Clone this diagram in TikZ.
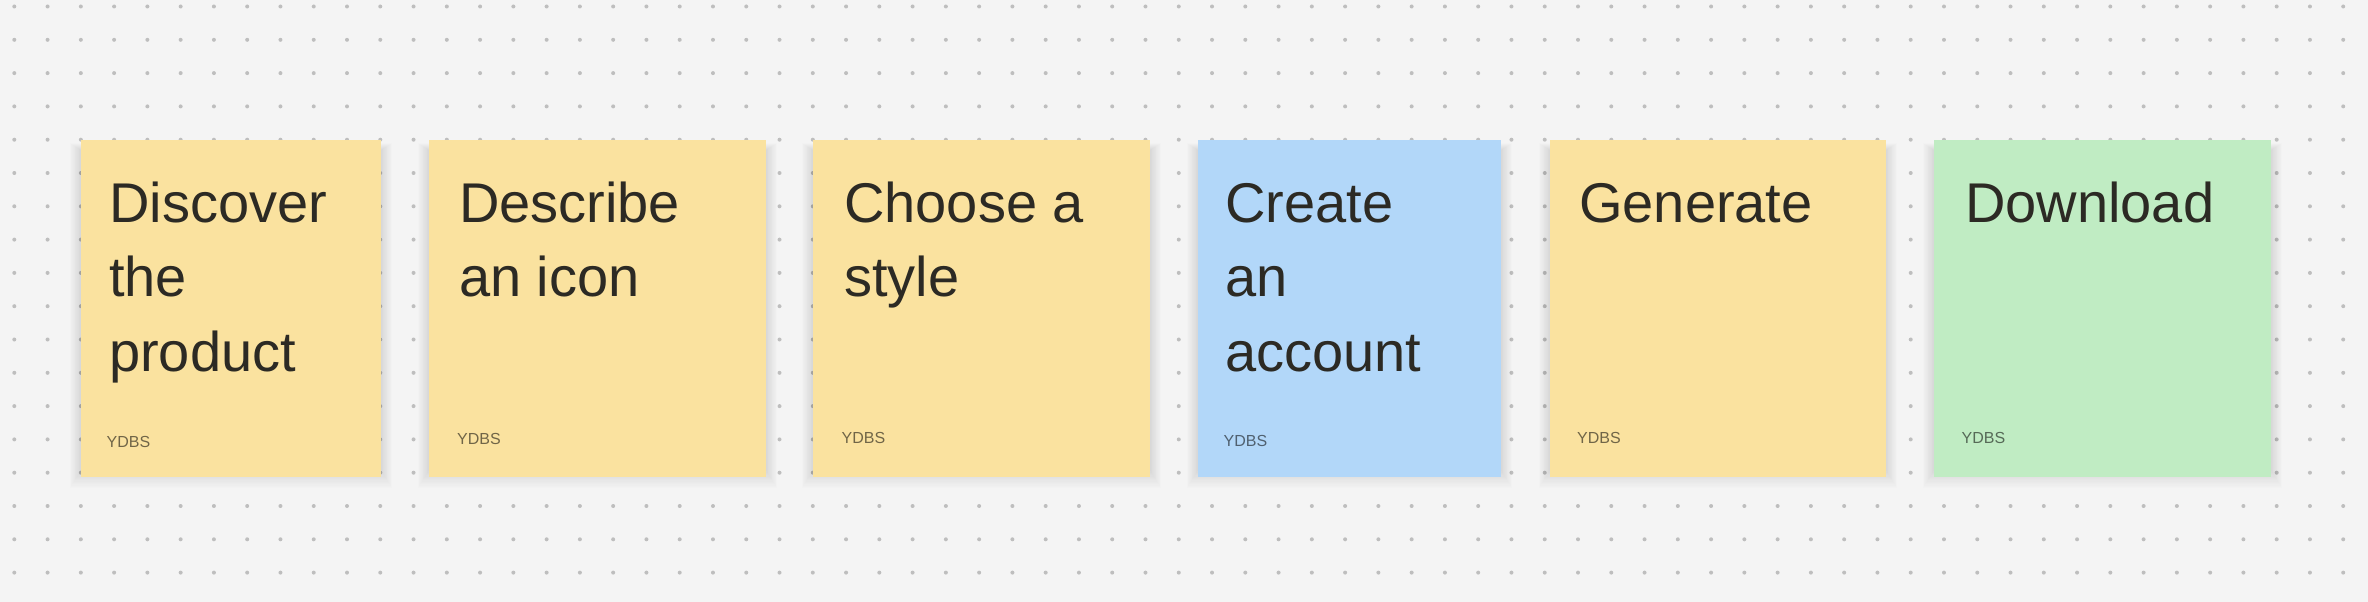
\documentclass[tikz,border=0pt]{standalone}
\usepackage{fontspec}
\setmainfont{Liberation Sans}
\definecolor{bgc}{HTML}{F4F4F4}
\definecolor{dotc}{HTML}{BEBEBE}
\definecolor{yel}{HTML}{FAE29F}
\definecolor{blu}{HTML}{B2D7F9}
\definecolor{grn}{HTML}{C0ECC3}
\definecolor{ink}{HTML}{2C2A24}
\tikzset{
  sticky/.style={draw=none, rectangle, inner sep=0pt, anchor=north west},
  shadowlayer/.style={fill=black, fill opacity=0.0065},
  hand/.style={anchor=base west, inner sep=0pt, text=ink, font=\fontsize{56}{74}\selectfont},
  author/.style={anchor=base west, inner sep=0pt, text=black, text opacity=0.55, font=\fontsize{16}{19}\selectfont}
}
\begin{document}
\begin{tikzpicture}[x=1pt,y=-1pt]
\useasboundingbox (0,0) rectangle (2368,602);
\fill[bgc] (0,0) rectangle (2368,602);
\foreach \i in {0,...,70}{
  \foreach \j in {0,...,17}{
    \fill[dotc] ({14.3+33.27*\i},{6.5+33.3*\j}) circle (2);
  }
}
% soft shadows
\foreach \xa/\xb in {81/381, 429/766, 813/1150, 1198/1501, 1550/1886, 1934/2271}{
  \foreach \k in {1,...,14}{
    \fill[shadowlayer] ({\xa-\k*0.8},{150-\k*0.5}) rectangle ({\xb+\k*0.8},{470+\k*1.3});
  }
}
% notes
\node[sticky, fill=yel, minimum width=300pt, minimum height=337pt] (n1) at (81,140) {};
\node[sticky, fill=yel, minimum width=337pt, minimum height=337pt] (n2) at (429,140) {};
\node[sticky, fill=yel, minimum width=337pt, minimum height=337pt] (n3) at (813,140) {};
\node[sticky, fill=blu, minimum width=303pt, minimum height=337pt] (n4) at (1198,140) {};
\node[sticky, fill=yel, minimum width=336pt, minimum height=337pt] (n5) at (1550,140) {};
\node[sticky, fill=grn, minimum width=337pt, minimum height=337pt] (n6) at (1934,140) {};
% note 1
\node[hand] (t1a) at (109,222) {Discover};
\node[hand] (t1b) at (109,296.5) {the};
\node[hand] (t1c) at (109,371) {product};
\node[author] (a1) at (106.5,447) {YDBS};
% note 2
\node[hand] (t2a) at (459,222) {Describe};
\node[hand] (t2b) at (459,296.5) {an icon};
\node[author] (a2) at (457,444) {YDBS};
% note 3
\node[hand] (t3a) at (844,222) {Choose a};
\node[hand] (t3b) at (844,296.5) {style};
\node[author] (a3) at (841.5,443) {YDBS};
% note 4
\node[hand] (t4a) at (1225,222) {Create};
\node[hand] (t4b) at (1225,296.5) {an};
\node[hand] (t4c) at (1225,371) {account};
\node[author] (a4) at (1223.5,446.5) {YDBS};
% note 5
\node[hand] (t5a) at (1579,222) {Generate};
\node[author] (a5) at (1577,443) {YDBS};
% note 6
\node[hand] (t6a) at (1965,222) {Download};
\node[author] (a6) at (1961.5,443) {YDBS};
\end{tikzpicture}
\end{document}
